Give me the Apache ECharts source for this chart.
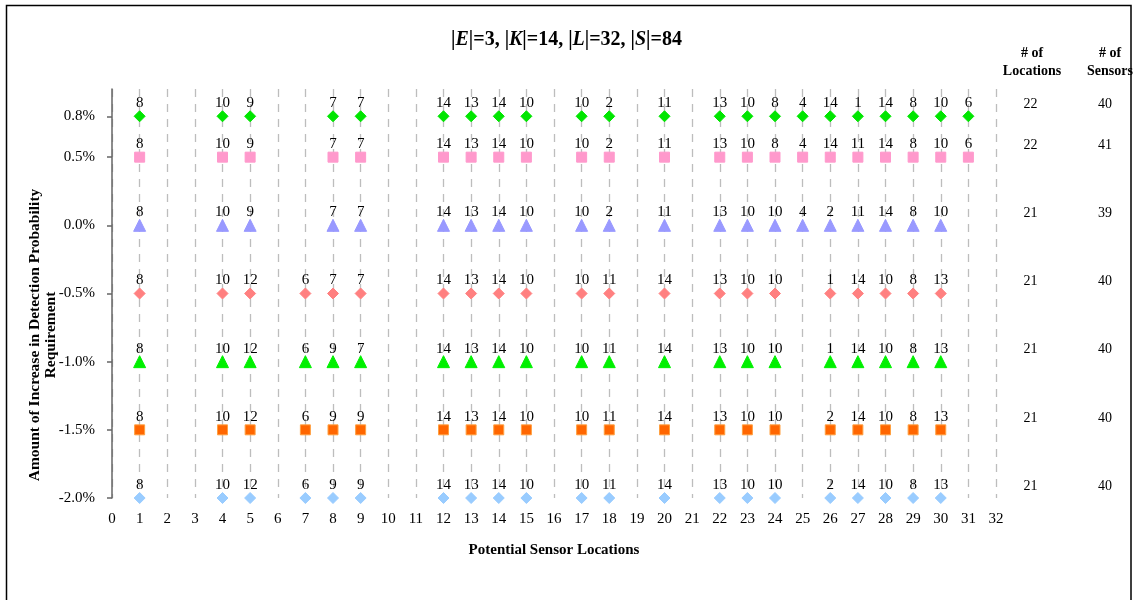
<!DOCTYPE html>
<html>
<head>
<meta charset="utf-8">
<script src="https://cdn.jsdelivr.net/npm/echarts@6/dist/echarts.min.js"></script>
<style>html,body{margin:0;padding:0;background:#fff}#c{width:1133px;height:600px}</style>
</head>
<body>
<div id="c"></div>
<script>
// Row values (increase in detection probability requirement, %)
const rowValues = [0.8, 0.5, 0.0, -0.5, -1.0, -1.5, -2.0];
const rowLabels = ['0.8%', '0.5%', '0.0%', '-0.5%', '-1.0%', '-1.5%', '-2.0%'];
const xTicks = [0,1,2,3,4,5,6,7,8,9,10,11,12,13,14,15,16,17,18,19,20,21,22,23,24,25,26,27,28,29,30,31,32];

// Locations chosen and sensor-type labels per row
const loc_p08 = [1,4,5,8,9,12,13,14,15,17,18,20,22,23,24,25,26,27,28,29,30,31];
const lab_p08 = [8,10,9,7,7,14,13,14,10,10,2,11,13,10,8,4,14,1,14,8,10,6];
const loc_p05 = [1,4,5,8,9,12,13,14,15,17,18,20,22,23,24,25,26,27,28,29,30,31];
const lab_p05 = [8,10,9,7,7,14,13,14,10,10,2,11,13,10,8,4,14,11,14,8,10,6];
const loc_p00 = [1,4,5,8,9,12,13,14,15,17,18,20,22,23,24,25,26,27,28,29,30];
const lab_p00 = [8,10,9,7,7,14,13,14,10,10,2,11,13,10,10,4,2,11,14,8,10];
const loc_m05 = [1,4,5,7,8,9,12,13,14,15,17,18,20,22,23,24,26,27,28,29,30];
const lab_m05 = [8,10,12,6,7,7,14,13,14,10,10,11,14,13,10,10,1,14,10,8,13];
const loc_m10 = [1,4,5,7,8,9,12,13,14,15,17,18,20,22,23,24,26,27,28,29,30];
const lab_m10 = [8,10,12,6,9,7,14,13,14,10,10,11,14,13,10,10,1,14,10,8,13];
const loc_m15 = [1,4,5,7,8,9,12,13,14,15,17,18,20,22,23,24,26,27,28,29,30];
const lab_m15 = [8,10,12,6,9,9,14,13,14,10,10,11,14,13,10,10,2,14,10,8,13];
const loc_m20 = [1,4,5,7,8,9,12,13,14,15,17,18,20,22,23,24,26,27,28,29,30];
const lab_m20 = [8,10,12,6,9,9,14,13,14,10,10,11,14,13,10,10,2,14,10,8,13];

const numLocations = [22, 22, 21, 21, 21, 21, 21];
const numSensors   = [40, 41, 39, 40, 40, 40, 40];

const rows = [
  {locs: loc_p08, labs: lab_p08, symbol: 'diamond', size: 11, color: '#00E600', border: '#00E600'},
  {locs: loc_p05, labs: lab_p05, symbol: 'rect', size: 10, color: '#FF99CC', border: '#FF99CC'},
  {locs: loc_p00, labs: lab_p00, symbol: 'triangle', size: 12, color: '#9999FF', border: '#9999FF'},
  {locs: loc_m05, labs: lab_m05, symbol: 'diamond', size: 11, color: '#FF8080', border: '#FF8080'},
  {locs: loc_m10, labs: lab_m10, symbol: 'triangle', size: 12, color: '#00F000', border: '#00F000'},
  {locs: loc_m15, labs: lab_m15, symbol: 'rect', size: 10, color: '#FF6600', border: '#FFA040'},
  {locs: loc_m20, labs: lab_m20, symbol: 'diamond', size: 11, color: '#99CCFF', border: '#99CCFF'}
];

const serif = '"Liberation Serif", "Times New Roman", serif';

const series = rows.map((r, i) => ({
  type: 'scatter',
  symbol: r.symbol,
  symbolSize: r.size,
  itemStyle: {color: r.color, borderColor: r.border, borderWidth: 1, opacity: 1},
  data: r.locs.map((x, j) => [x, rowValues[i], r.labs[j]]),
  label: {
    show: true, position: 'inside', offset: [0, -13],
    formatter: p => String(p.data[2]),
    fontFamily: serif, fontSize: 15, color: '#000'
  },
  emphasis: {disabled: true},
  z: 3
}));

const locX = 33.25, sensX = 35.95;
[[locX, numLocations], [sensX, numSensors]].forEach(([xx, arr]) => {
  series.push({
    type: 'scatter', symbol: 'circle', symbolSize: 1, clip: false, silent: true,
    itemStyle: {opacity: 0},
    data: rowValues.map((v, i) => [xx, v, arr[i]]),
    label: {show: true, position: 'inside', offset: [0, -12], formatter: p => String(p.data[2]),
      fontFamily: serif, fontSize: 14, color: '#000', opacity: 1},
    emphasis: {disabled: true}
  });
});

const chart = echarts.init(document.getElementById('c'), null, {renderer: 'canvas'});
chart.setOption({
  backgroundColor: '#fff',
  animation: false,
  title: {
    text: '|{i|E}|=3, |{i|K}|=14, |{i|L}|=32, |{i|S}|=84',
    left: 'center', top: 25,
    textStyle: {
      fontFamily: serif, fontSize: 20, fontWeight: 'bold', color: '#000',
      rich: {i: {fontFamily: serif, fontSize: 20, fontWeight: 'bold', fontStyle: 'italic', color: '#000'}}
    }
  },
  grid: {left: 112, right: 137, top: 89, bottom: 102, containLabel: false},
  xAxis: {
    type: 'value', min: 0, max: 32, interval: 1,
    name: 'Potential Sensor Locations', nameLocation: 'middle', nameGap: 45,
    nameTextStyle: {fontFamily: serif, fontSize: 15, fontWeight: 'bold', color: '#000'},
    axisLine: {show: false}, axisTick: {show: false},
    axisLabel: {margin: 14, fontFamily: serif, fontSize: 15, color: '#000',
      formatter: v => xTicks.includes(v) ? String(v) : ''},
    splitLine: {show: true, lineStyle: {color: '#BDBDBD', width: 1.3, type: [8, 7]}}
  },
  yAxis: {
    type: 'value', min: -2, max: 1,
    axisLine: {show: true, lineStyle: {color: '#666', width: 1.5}},
    axisTick: {show: true, length: 5, customValues: rowValues, lineStyle: {color: '#666', width: 1.5}},
    axisLabel: {customValues: rowValues, margin: 17, fontFamily: serif, fontSize: 15, color: '#000',
      formatter: v => { const k = rowValues.findIndex(r => Math.abs(r - v) < 1e-9); return k >= 0 ? rowLabels[k] : ''; }},
    splitLine: {show: false}
  },
  graphic: [
    {type: 'rect', shape: {x: 6.5, y: 5.5, width: 1124.5, height: 600}, style: {fill: 'none', stroke: '#000', lineWidth: 1.5}, silent: true, z: 10},
    {type: 'text', x: 43, y: 335, rotation: Math.PI / 2, silent: true,
      style: {text: 'Amount of Increase in Detection Probability\nRequirement', align: 'center', verticalAlign: 'middle',
        font: 'bold 15.5px ' + serif, fill: '#000', lineHeight: 16}},
    {type: 'text', x: 1032, y: 62, silent: true,
      style: {text: '# of\nLocations', align: 'center', verticalAlign: 'middle', font: 'bold 14px ' + serif, fill: '#000', lineHeight: 18}},
    {type: 'text', x: 1110, y: 62, silent: true,
      style: {text: '# of\nSensors', align: 'center', verticalAlign: 'middle', font: 'bold 14px ' + serif, fill: '#000', lineHeight: 18}}
  ],
  series: series
});
</script>
</body>
</html>
